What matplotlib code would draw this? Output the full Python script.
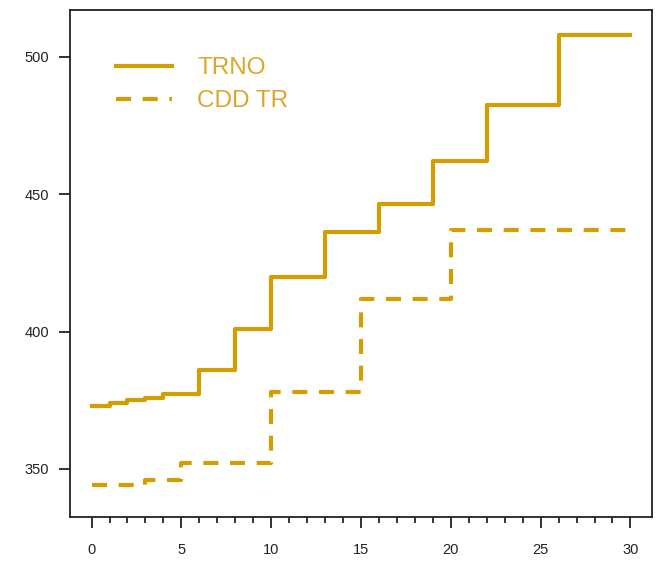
import matplotlib.pyplot as plt
from matplotlib.ticker import MultipleLocator, FixedLocator

plt.rcParams['font.family'] = ['Liberation Sans', 'DejaVu Sans']

# step data
trno_x = [0, 1, 2, 3, 4, 6, 8, 10, 13, 16, 19, 22, 26, 30]
trno_y = [373, 374, 375, 376, 377.3, 386, 401, 420, 436.3, 446.5, 462, 482.5, 508, 508]
cdd_x = [0, 3, 5, 10, 15, 20, 30]
cdd_y = [344.2, 346, 352, 378, 412, 437, 437]
labels = ['TRNO', 'CDD TR']
gold = '#D49E00'

fig = plt.figure(figsize=(6.62, 5.62), dpi=100)
ax = fig.add_axes([70 / 662, 1 - 517 / 562, 582 / 662, 507 / 562])

ax.step(trno_x, trno_y, where='post', color=gold, lw=3, label=labels[0])
ax.step(cdd_x, cdd_y, where='post', color=gold, lw=3,
        linestyle=(0, (3.6, 2.8)), label=labels[1])

ax.set_xlim(-1.2, 31.2)
ax.set_ylim(332.5, 517.1)
ax.xaxis.set_major_locator(MultipleLocator(5))
ax.xaxis.set_minor_locator(FixedLocator(range(0, 31)))
ax.set_yticks([350, 400, 450, 500])

for s in ax.spines.values():
    s.set_linewidth(1.3)
    s.set_color('#222222')
ax.tick_params(axis='x', which='major', length=8, width=1.3, pad=11,
               labelsize=10.5, colors='#222222')
ax.tick_params(axis='x', which='minor', length=4.5, width=1.3, colors='#222222')
ax.tick_params(axis='y', length=8, width=1.3, pad=7, labelsize=10.5,
               colors='#222222')

leg = ax.legend(loc='upper left', bbox_to_anchor=(116 / 662, 1 - 57 / 562),
                bbox_transform=fig.transFigure, frameon=False, fontsize=17.5,
                handlelength=2.3, handletextpad=1.05, labelspacing=0.47,
                labelcolor='#DDA628', borderpad=0, borderaxespad=0)

fig.savefig('out.png', dpi=100)
